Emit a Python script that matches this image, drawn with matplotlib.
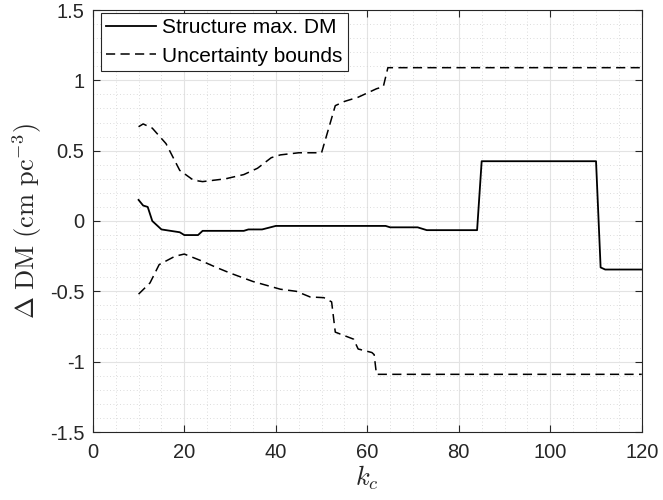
import numpy as np
import matplotlib.pyplot as plt
from matplotlib.ticker import MultipleLocator

plt.rcParams["font.family"] = ["Liberation Sans", "DejaVu Sans"]
plt.rcParams["mathtext.fontset"] = "cm"

# structure max. DM (breakpoints)
k_struct = [10, 11, 12, 13, 15, 17, 19, 20, 23, 24, 33, 34, 37, 40, 64, 65, 71, 73, 84, 85, 110, 111, 112, 120]
dm_struct = [0.15, 0.11, 0.10, 0.0, -0.06, -0.07, -0.08, -0.10, -0.10, -0.07, -0.07, -0.06, -0.06,
             -0.035, -0.035, -0.045, -0.045, -0.065, -0.065, 0.425, 0.425, -0.33, -0.345, -0.345]

# upper uncertainty bound
k_upper = [10, 11, 13, 16, 19, 22, 24, 29, 33, 36, 39, 41, 45, 50, 53, 55, 58, 62, 63.5, 64.5, 120]
dm_upper = [0.67, 0.69, 0.66, 0.55, 0.36, 0.29, 0.28, 0.30, 0.33, 0.375, 0.45, 0.47, 0.485, 0.485,
            0.82, 0.85, 0.88, 0.94, 0.955, 1.09, 1.09]

# lower uncertainty bound
k_lower = [10, 12.5, 14.5, 18, 20, 23.5, 27, 30, 35, 41, 44.5, 47.5, 50.5, 52.2, 53, 57, 58, 61, 61.5, 62, 120]
dm_lower = [-0.52, -0.44, -0.31, -0.25, -0.235, -0.28, -0.33, -0.37, -0.43, -0.485, -0.50, -0.54,
            -0.545, -0.575, -0.79, -0.84, -0.91, -0.935, -0.95, -1.09, -1.09]

fig = plt.figure(figsize=(6.63, 5), dpi=100)
ax = fig.add_axes([0.140, 0.136, 0.828, 0.844])

ax.plot(k_struct, dm_struct, color="black", linewidth=1.3, label="Structure max. DM")
ax.plot(k_upper, dm_upper, color="black", linestyle=(0, (6, 3.5)), linewidth=1.1, label="Uncertainty bounds")
ax.plot(k_lower, dm_lower, color="black", linestyle=(0, (6, 3.5)), linewidth=1.1)

ax.set_xlim(0, 120)
ax.set_ylim(-1.5, 1.5)
ax.xaxis.set_major_locator(MultipleLocator(20))
ax.xaxis.set_minor_locator(MultipleLocator(5))
ax.yaxis.set_major_locator(MultipleLocator(0.5))
ax.yaxis.set_minor_locator(MultipleLocator(0.1))
ax.set_yticks([-1.5, -1, -0.5, 0, 0.5, 1, 1.5])
ax.set_yticklabels(["-1.5", "-1", "-0.5", "0", "0.5", "1", "1.5"])

ax.grid(which="major", color="#e3e3e3", linewidth=0.8)
ax.grid(which="minor", color="#d0d0d0", linestyle=(0, (1, 3)), linewidth=0.6)
ax.set_axisbelow(True)

ax.tick_params(which="both", direction="in", top=True, right=True, colors="#262626",
               labelsize=14.5, labelcolor="#262626")
ax.tick_params(which="major", length=5)
ax.tick_params(axis="x", which="major", pad=8)
ax.tick_params(axis="y", which="major", pad=6)
ax.tick_params(which="minor", length=0)
for s in ax.spines.values():
    s.set_color("#262626")
    s.set_linewidth(0.8)

ax.set_xlabel(r"$k_c$", fontsize=19, color="#262626", labelpad=1)
ax.set_ylabel(r"$\Delta\ \mathrm{DM}\ (\mathrm{cm\ pc}^{-3})$", fontsize=19, color="#262626", labelpad=4)

leg = ax.legend(loc="upper left", bbox_to_anchor=(8 / 549, 1 - 3 / 422), borderaxespad=0,
                fontsize=15, fancybox=False, framealpha=1, edgecolor="#262626",
                handlelength=2.4, borderpad=0.25, labelspacing=0.45, handletextpad=0.3)
leg.get_frame().set_linewidth(0.8)

fig.savefig("out.png", dpi=100)
